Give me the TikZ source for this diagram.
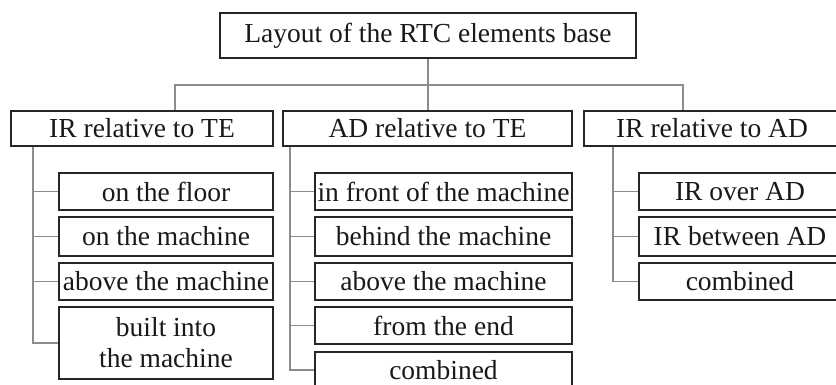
\documentclass[tikz,border=0pt]{standalone}
\usepackage{fontspec}
\setmainfont{Liberation Serif}
\begin{document}
\begin{tikzpicture}[x=1pt,y=-1pt,
  box/.style={draw=black!85, line width=1.5pt, inner sep=0pt, align=center,
    font=\fontsize{27.5}{31}\selectfont, text=black!90},
  conn/.style={draw=black!45, line width=1.1pt}]
\useasboundingbox (0,0) rectangle (836,385);
\fill[white] (0,0) rectangle (836,385);
% root
\node[box, minimum width=416pt, minimum height=45pt] (root) at (428,35.5) {Layout of the RTC elements base};
% level 1
\node[box, minimum width=262pt, minimum height=35pt] (la) at (142,128.5) {IR relative to TE};
\node[box, minimum width=289pt, minimum height=35pt] (lb) at (427.5,128.5) {AD relative to TE};
\node[box, minimum width=256pt, minimum height=35pt] (lc) at (712,128.5) {IR relative to AD};
% left children
\node[box, minimum width=214pt, minimum height=37pt] (a1) at (166,191.5) {on the floor};
\node[box, minimum width=214pt, minimum height=39pt] (a2) at (166,236.5) {on the machine};
\node[box, minimum width=214pt, minimum height=37pt] (a3) at (166,281.5) {above the machine};
\node[box, minimum width=214pt, minimum height=72pt] (a4) at (166,343) {built into\\the machine};
% middle children
\node[box, minimum width=257pt, minimum height=37pt] (b1) at (443.5,191.5) {in front of the machine};
\node[box, minimum width=257pt, minimum height=39pt] (b2) at (443.5,236.5) {behind the machine};
\node[box, minimum width=257pt, minimum height=37pt] (b3) at (443.5,281.5) {above the machine};
\node[box, minimum width=257pt, minimum height=37pt] (b4) at (443.5,325.5) {from the end};
\node[box, minimum width=257pt, minimum height=36pt] (b5) at (443.5,370) {combined};
% right children
\node[box, minimum width=202pt, minimum height=37pt] (c1) at (740,191.5) {IR over AD};
\node[box, minimum width=202pt, minimum height=39pt] (c2) at (740,236.5) {IR between AD};
\node[box, minimum width=202pt, minimum height=37pt] (c3) at (740,281.5) {combined};
% connectors
\coordinate (hl) at (175,85);
\coordinate (hr) at (683,85);
\coordinate (ta) at (33,0);
\coordinate (tb) at (290,0);
\coordinate (tc) at (613,0);
\draw[conn] (root.south) -- (root.south |- lb.north);
\draw[conn] (la.north -| hl) -- (hl) -- (hr) -- (lc.north -| hr);
\foreach \n in {a1,a2,a3,a4} \draw[conn] (la.south -| ta) |- (\n.west);
\foreach \n in {b1,b2,b3,b4,b5} \draw[conn] (lb.south -| tb) |- (\n.west);
\foreach \n in {c1,c2,c3} \draw[conn] (lc.south -| tc) |- (\n.west);
\end{tikzpicture}
\end{document}
